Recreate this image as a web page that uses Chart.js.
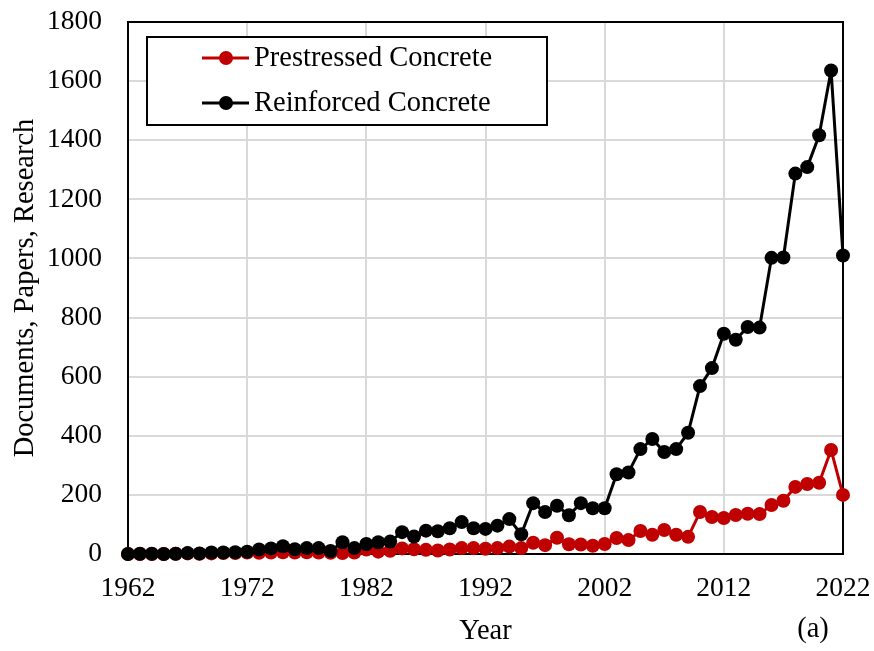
<!DOCTYPE html>
<html>
<head>
<meta charset="utf-8">
<script src="https://cdn.jsdelivr.net/npm/chart.js@4.4.1/dist/chart.umd.min.js"></script>
<style>
  html, body { margin: 0; padding: 0; background: #fff; }
  #wrap { width: 874px; height: 651px; }
</style>
</head>
<body>
<div id="wrap"><canvas id="docsChart" width="874" height="651"></canvas></div>
<script>
// yearly counts
const years = [];
for (let y = 1962; y <= 2022; y++) years.push(y);

const prestressed = [
    0, 0, 0, 0, 1, 2, 1, 2, 3, 3,          // 1962-1971
    5, 4, 5, 6, 5, 6, 5, 4, 3, 5,          // 1972-1981
    15, 8, 11, 19, 16, 14, 12, 15, 20, 20, // 1982-1991
    18, 20, 25, 20, 38, 30, 55, 33, 32, 28, // 1992-2001
    34, 54, 47, 78, 65, 81, 65, 58, 142, 125, // 2002-2011
    122, 132, 136, 135, 166, 180, 227, 237, 241, 352, // 2012-2021
    200                                    // 2022
];
const reinforced = [
    0, 1, 1, 0, 1, 3, 2, 5, 5, 6,          // 1962-1971
    8, 15, 19, 26, 16, 20, 20, 10, 40, 20, // 1972-1981
    34, 40, 42, 74, 59, 79, 77, 87, 108, 87, // 1982-1991
    85, 96, 118, 67, 172, 142, 163, 131, 172, 155, // 1992-2001
    155, 270, 276, 355, 389, 345, 355, 410, 568, 629, // 2002-2011
    745, 725, 768, 766, 1002, 1003, 1287, 1309, 1417, 1636, // 2012-2021
    1010                                   // 2022
];
const yTicks = [0, 200, 400, 600, 800, 1000, 1200, 1400, 1600, 1800];
const xTicks = [1962, 1972, 1982, 1992, 2002, 2012, 2022];

const serif = "'Liberation Serif', 'Times New Roman', serif";
const RED = '#c00000';

const toPoints = vals => years.map((yr, i) => ({ x: yr, y: vals[i] }));

// black frame around the plot area
const frame = {
    id: 'frame',
    beforeDatasetsDraw(chart) {
        const { ctx, chartArea: a } = chart;
        ctx.save();
        ctx.strokeStyle = '#000';
        ctx.lineWidth = 2;
        ctx.strokeRect(a.left, a.top, a.right - a.left, a.bottom - a.top);
        ctx.restore();
    }
};

// legend box inside the plot plus the "(a)" tag
const boxLegend = {
    id: 'boxLegend',
    afterDraw(chart) {
        const ctx = chart.ctx;
        ctx.save();
        ctx.fillStyle = '#fff';
        ctx.fillRect(147, 37, 400, 88);
        ctx.strokeStyle = '#000';
        ctx.lineWidth = 2;
        ctx.strokeRect(147, 37, 400, 88);
        const rows = [58, 103];
        chart.data.datasets.forEach((ds, i) => {
            const y = rows[i];
            ctx.strokeStyle = ds.borderColor;
            ctx.lineWidth = 3;
            ctx.beginPath();
            ctx.moveTo(202, y);
            ctx.lineTo(249, y);
            ctx.stroke();
            ctx.fillStyle = ds.backgroundColor;
            ctx.beginPath();
            ctx.arc(226, y, 7, 0, Math.PI * 2);
            ctx.fill();
            ctx.fillStyle = '#000';
            ctx.font = '28.5px ' + serif;
            ctx.textBaseline = 'middle';
            ctx.textAlign = 'left';
            ctx.fillText(ds.label, 254, y + 1);
        });
        ctx.font = '28.5px ' + serif;
        ctx.textAlign = 'center';
        ctx.textBaseline = 'middle';
        ctx.fillStyle = '#000';
        ctx.fillText('(a)', 813, 630);
        ctx.restore();
    }
};

new Chart(document.getElementById('docsChart'), {
    type: 'line',
    data: {
        datasets: [
            {
                label: 'Prestressed Concrete',
                data: toPoints(prestressed),
                borderColor: RED,
                backgroundColor: RED,
                pointBackgroundColor: RED,
                pointBorderColor: RED,
                borderWidth: 3,
                borderJoinStyle: 'round',
                pointRadius: 7,
                pointBorderWidth: 0,
                clip: false,
                order: 2
            },
            {
                label: 'Reinforced Concrete',
                data: toPoints(reinforced),
                borderColor: '#000',
                backgroundColor: '#000',
                pointBackgroundColor: '#000',
                pointBorderColor: '#000',
                borderWidth: 3,
                borderJoinStyle: 'round',
                pointRadius: 7,
                pointBorderWidth: 0,
                clip: false,
                order: 1
            }
        ]
    },
    options: {
        responsive: false,
        animation: false,
        layout: { padding: { left: 0, right: 31, top: 22, bottom: 0 } },
        plugins: {
            legend: { display: false },
            tooltip: { enabled: false }
        },
        scales: {
            x: {
                type: 'linear',
                min: 1962,
                max: 2022,
                afterBuildTicks: s => { s.ticks = xTicks.map(v => ({ value: v })); },
                afterFit: s => { s.height = 97; },
                ticks: {
                    callback: v => String(v),
                    color: '#000',
                    font: { family: serif, size: 27.5, lineHeight: 1.2 },
                    padding: 0,
                    maxRotation: 0
                },
                grid: { color: '#d9d9d9', lineWidth: 2, tickLength: 18, tickColor: 'rgba(0,0,0,0)' },
                border: { color: '#000', width: 2 },
                title: {
                    display: true,
                    text: 'Year',
                    color: '#000',
                    font: { family: serif, size: 28.5, lineHeight: 1.2 },
                    padding: { top: 0, bottom: 2 }
                }
            },
            y: {
                min: 0,
                max: 1800,
                afterBuildTicks: s => { s.ticks = yTicks.map(v => ({ value: v })); },
                afterFit: s => { s.width = 128; },
                ticks: {
                    callback: v => String(v),
                    color: '#000',
                    font: { family: serif, size: 27.5, lineHeight: 1.2 },
                    padding: 0
                },
                grid: { color: '#d9d9d9', lineWidth: 2, tickLength: 26, tickColor: 'rgba(0,0,0,0)' },
                border: { color: '#000', width: 2 },
                title: {
                    display: true,
                    text: 'Documents, Papers, Research',
                    color: '#000',
                    font: { family: serif, size: 28.5, lineHeight: 1.2 },
                    padding: { top: 8, bottom: 0 }
                }
            }
        }
    },
    plugins: [frame, boxLegend]
});
</script>
</body>
</html>
